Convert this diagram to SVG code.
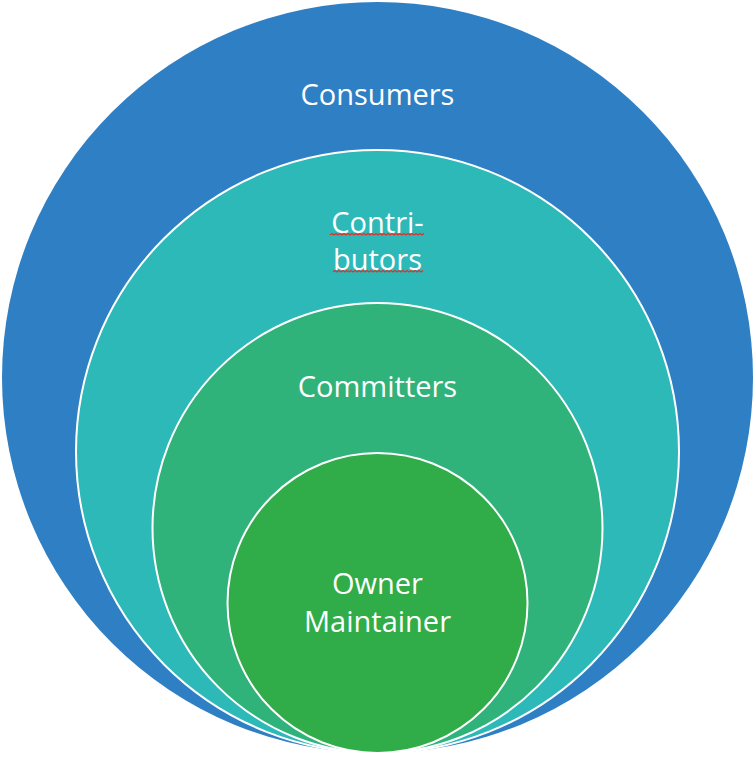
<svg xmlns="http://www.w3.org/2000/svg" width="756" height="757" viewBox="0 0 756 757">
<defs>
<style>
.c{stroke:#fff;stroke-width:2}
.t{font-family:"Open Sans","Noto Sans",sans-serif;font-size:29px;fill:#fff;text-anchor:middle}
.sq{fill:none;stroke:#e0322a;stroke-width:1.2}
</style>
</defs>
<rect width="756" height="757" fill="#fff"/>
<g id="consumers">
<circle cx="377.5" cy="377.5" r="375.5" fill="#2F7FC4"/>
<text class="t" x="377.5" y="105">Consumers</text>
</g>
<g id="contributors">
<circle class="c" cx="377.5" cy="451.5" r="301.5" fill="#2EB9B9"/>
<text class="t" x="377.5" y="233">Contri-</text>
<text class="t" x="377.5" y="270">butors</text>
<path class="sq" d="M330,235 l2,-1.5 l2,1.5 l2,-1.5 l2,1.5 l2,-1.5 l2,1.5 l2,-1.5 l2,1.5 l2,-1.5 l2,1.5 l2,-1.5 l2,1.5 l2,-1.5 l2,1.5 l2,-1.5 l2,1.5 l2,-1.5 l2,1.5 l2,-1.5 l2,1.5 l2,-1.5 l2,1.5 l2,-1.5 l2,1.5 l2,-1.5 l2,1.5 l2,-1.5 l2,1.5 l2,-1.5 l2,1.5 l2,-1.5 l2,1.5 l2,-1.5 l2,1.5 l2,-1.5 l2,1.5 l2,-1.5 l2,1.5 l2,-1.5 l2,1.5 l2,-1.5 l2,1.5 l2,-1.5 l2,1.5 l2,-1.5 l2,1.5 l2,-1.5"/>
<path class="sq" d="M333,272 l2,-1.5 l2,1.5 l2,-1.5 l2,1.5 l2,-1.5 l2,1.5 l2,-1.5 l2,1.5 l2,-1.5 l2,1.5 l2,-1.5 l2,1.5 l2,-1.5 l2,1.5 l2,-1.5 l2,1.5 l2,-1.5 l2,1.5 l2,-1.5 l2,1.5 l2,-1.5 l2,1.5 l2,-1.5 l2,1.5 l2,-1.5 l2,1.5 l2,-1.5 l2,1.5 l2,-1.5 l2,1.5 l2,-1.5 l2,1.5 l2,-1.5 l2,1.5 l2,-1.5 l2,1.5 l2,-1.5 l2,1.5 l2,-1.5 l2,1.5 l2,-1.5 l2,1.5 l2,-1.5 l2,1.5 l2,-1.5"/>
</g>
<g id="committers">
<circle class="c" cx="377.5" cy="528" r="225" fill="#30B37B"/>
<text class="t" x="377.5" y="397">Committers</text>
</g>
<g id="owner">
<circle class="c" cx="377.5" cy="603" r="150" fill="#30AC48"/>
<text class="t" x="377.5" y="594">Owner</text>
<text class="t" x="377.5" y="632">Maintainer</text>
</g>
<g id="connectors"/>
</svg>
